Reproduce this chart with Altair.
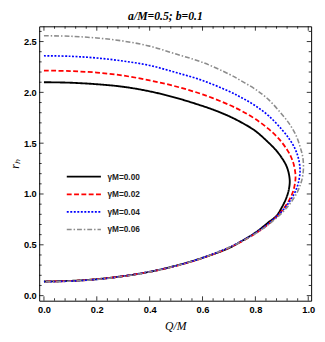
import altair as alt
import pandas as pd

labels = ["γM=0.00", "γM=0.02", "γM=0.04", "γM=0.06"]
colors = ["#000000", "#ff0000", "#0000ff", "#8c8c8c"]
dashes = [[1, 0], [5, 2.5], [2, 1.6], [5, 2, 1.5, 2]]
widths = [1.9, 1.6, 1.8, 1.6]

# gamma M = 0.00  (outer branch from Q=0 to the extremal point, then inner branch back to Q=0)
q_black = [0.0, 0.1, 0.2, 0.3, 0.4, 0.5, 0.6, 0.65, 0.7, 0.75, 0.8, 0.85, 0.88, 0.9, 0.915, 0.925, 0.930,
           0.925, 0.915, 0.9, 0.88, 0.85, 0.8, 0.75, 0.7, 0.6, 0.5, 0.4, 0.3, 0.2, 0.1, 0.0]
r_black = [2.100, 2.095, 2.080, 2.055, 2.010, 1.946, 1.866, 1.820, 1.766, 1.700, 1.620, 1.505, 1.425, 1.355, 1.290, 1.218, 1.124,
           1.025, 0.948, 0.868, 0.785, 0.722, 0.620, 0.540, 0.468, 0.372, 0.295, 0.235, 0.192, 0.162, 0.145, 0.139]
# gamma M = 0.02
q_red = [0.0, 0.1, 0.2, 0.3, 0.4, 0.5, 0.6, 0.7, 0.75, 0.8, 0.85, 0.89, 0.92, 0.935, 0.945, 0.952,
         0.945, 0.935, 0.92, 0.89, 0.85, 0.8, 0.75, 0.7, 0.6, 0.5, 0.4, 0.3, 0.2, 0.1, 0.0]
r_red = [2.215, 2.209, 2.195, 2.165, 2.118, 2.058, 1.980, 1.878, 1.814, 1.737, 1.640, 1.540, 1.436, 1.364, 1.292, 1.170,
         1.045, 0.976, 0.905, 0.804, 0.705, 0.611, 0.535, 0.470, 0.369, 0.292, 0.234, 0.191, 0.161, 0.144, 0.138]
# gamma M = 0.04
q_blue = [0.0, 0.1, 0.2, 0.3, 0.4, 0.5, 0.6, 0.7, 0.75, 0.8, 0.85, 0.9, 0.93, 0.95, 0.962, 0.969,
          0.962, 0.95, 0.93, 0.9, 0.85, 0.8, 0.75, 0.7, 0.6, 0.5, 0.4, 0.3, 0.2, 0.1, 0.0]
r_blue = [2.360, 2.355, 2.338, 2.308, 2.265, 2.195, 2.117, 2.010, 1.945, 1.868, 1.770, 1.635, 1.535, 1.445, 1.360, 1.236,
          1.104, 1.019, 0.928, 0.829, 0.709, 0.616, 0.540, 0.474, 0.372, 0.294, 0.235, 0.191, 0.160, 0.143, 0.137]
# gamma M = 0.06
q_gray = [0.0, 0.1, 0.2, 0.3, 0.4, 0.5, 0.6, 0.7, 0.75, 0.8, 0.85, 0.9, 0.93, 0.955, 0.972, 0.979, 0.982,
          0.979, 0.972, 0.955, 0.93, 0.9, 0.85, 0.8, 0.75, 0.7, 0.6, 0.5, 0.4, 0.3, 0.2, 0.1, 0.0]
r_gray = [2.557, 2.552, 2.535, 2.505, 2.455, 2.377, 2.295, 2.180, 2.108, 2.030, 1.928, 1.785, 1.685, 1.570, 1.440, 1.368, 1.270,
          1.178, 1.105, 1.000, 0.902, 0.812, 0.700, 0.610, 0.536, 0.473, 0.371, 0.293, 0.233, 0.189, 0.159, 0.142, 0.136]

x_major = [0.0, 0.2, 0.4, 0.6, 0.8, 1.0]
x_minor = [0.04, 0.08, 0.12, 0.16, 0.24, 0.28, 0.32, 0.36, 0.44, 0.48, 0.52, 0.56,
           0.64, 0.68, 0.72, 0.76, 0.84, 0.88, 0.92, 0.96]
y_major = [0.0, 0.5, 1.0, 1.5, 2.0, 2.5]
y_minor = [0.1, 0.2, 0.3, 0.4, 0.6, 0.7, 0.8, 0.9, 1.1, 1.2, 1.3, 1.4,
           1.6, 1.7, 1.8, 1.9, 2.1, 2.2, 2.3, 2.4, 2.6]

rows = []
for lab, qs, rs in zip(labels, [q_black, q_red, q_blue, q_gray], [r_black, r_red, r_blue, r_gray]):
    for i, (q, r) in enumerate(zip(qs, rs)):
        rows.append({"series": lab, "Q": q, "r": r, "i": i})
df = pd.DataFrame(rows)

W, H = 279, 281.5
xscale = alt.Scale(domain=[-0.018, 1.011], nice=False, zero=False)
yscale = alt.Scale(domain=[-0.05, 2.65], nice=False, zero=False)
cscale = alt.Scale(domain=labels, range=colors)
dscale = alt.Scale(domain=labels, range=dashes)
wscale = alt.Scale(domain=labels, range=widths)

curves = alt.Chart(df).mark_line(interpolate="catmull-rom", clip=True).encode(
    x=alt.X("Q:Q", scale=xscale, title="Q/M",
            axis=alt.Axis(values=x_major, format=".1f", ticks=False, tickSize=0, domain=False, grid=False,
                          labelPadding=4, titlePadding=7)),
    y=alt.Y("r:Q", scale=yscale, title="rₕ",
            axis=alt.Axis(values=y_major, format=".1f", ticks=False, tickSize=0, domain=False, grid=False,
                          labelPadding=3, titlePadding=2)),
    color=alt.Color("series:N", scale=cscale, legend=None),
    strokeDash=alt.StrokeDash("series:N", scale=dscale, legend=None),
    strokeWidth=alt.StrokeWidth("series:N", scale=wscale, legend=None),
    detail="series:N",
    order="i:Q",
)

def xticks(vals, ln):
    d = pd.DataFrame({"v": vals})
    b = alt.Chart(d).mark_rule(color="black", strokeWidth=0.8).encode(
        x=alt.X("v:Q", scale=xscale, axis=None), y=alt.value(H), y2=alt.value(H - ln))
    t = alt.Chart(d).mark_rule(color="black", strokeWidth=0.8).encode(
        x=alt.X("v:Q", scale=xscale, axis=None), y=alt.value(0), y2=alt.value(ln))
    return [b, t]

def yticks(vals, ln):
    d = pd.DataFrame({"v": vals})
    l = alt.Chart(d).mark_rule(color="black", strokeWidth=0.8).encode(
        y=alt.Y("v:Q", scale=yscale, axis=None), x=alt.value(0), x2=alt.value(ln))
    r = alt.Chart(d).mark_rule(color="black", strokeWidth=0.8).encode(
        y=alt.Y("v:Q", scale=yscale, axis=None), x=alt.value(W), x2=alt.value(W - ln))
    return [l, r]

leg_df = pd.DataFrame({"series": labels})
legy = alt.Y("series:N", scale=alt.Scale(type="point", domain=labels, range=[154.2, 208.5], padding=0), axis=None)
leg_lines = alt.Chart(leg_df).mark_rule().encode(
    x=alt.value(28.3), x2=alt.value(63.3), y=legy,
    color=alt.Color("series:N", scale=cscale, legend=None),
    strokeDash=alt.StrokeDash("series:N", scale=dscale, legend=None),
    strokeWidth=alt.StrokeWidth("series:N", scale=wscale, legend=None),
)
leg_text = alt.Chart(leg_df).mark_text(align="left", baseline="middle", font="Liberation Sans",
                                       fontSize=8.5, fontWeight="bold", color="#222222").encode(
    x=alt.value(70), y=legy, text="series:N")

layers = [curves] + xticks(x_major, 4.5) + xticks(x_minor, 2.5) + yticks(y_major, 4.5) + yticks(y_minor, 2.5) + [leg_lines, leg_text]

chart = alt.layer(*layers).resolve_scale(x="independent", y="independent").properties(
    width=W, height=H,
    padding={"left": 32, "top": 14.5, "right": 6, "bottom": 35},
    autosize=alt.AutoSizeParams(type="none"),
    title=alt.TitleParams("a/M=0.5; b=0.1", font="Liberation Serif", fontSize=12, fontStyle="italic",
                          fontWeight="bold", anchor="middle", offset=3, dx=-10, color="black"),
).configure_view(stroke="black", strokeWidth=1).configure_axis(
    labelFont="Liberation Sans", labelFontSize=9.5, labelFontWeight="bold", labelColor="black",
    titleFont="Liberation Serif", titleFontSize=12, titleFontStyle="italic", titleFontWeight="normal",
    titleColor="black",
)

chart.save("out.html", embed_options={"renderer": "svg", "actions": False})
